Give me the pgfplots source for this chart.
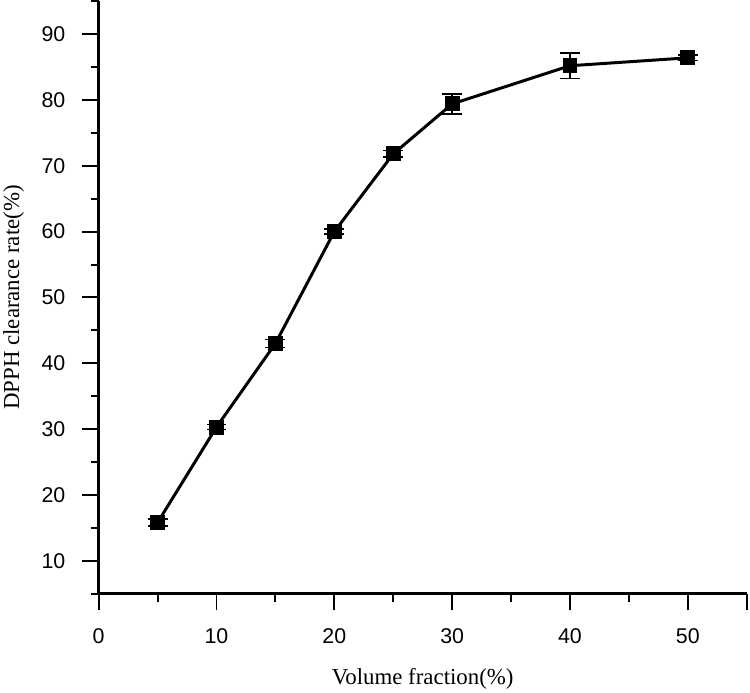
\documentclass[border=0pt]{standalone}
\usepackage{pgfplots}
\pgfplotsset{compat=1.18}
\usepackage{fontspec}
\setmainfont{Liberation Serif}
\newfontfamily\arialf{Liberation Sans}
\begin{document}
\begin{tikzpicture}
\begin{axis}[
  scale only axis,
  width=652pt, height=596pt,
  xmin=0, xmax=55, ymin=5, ymax=95,
  axis x line=bottom, axis y line=left,
  axis line style={line width=2.5pt, -},
  xtick={0,10,...,50}, ytick={10,20,...,90},
  minor xtick={5,15,...,45},
  minor ytick={5,15,...,95},
  extra x ticks={55}, extra x tick labels={},
  extra x tick style={major tick length=17pt},
  tick align=outside,
  major tick length=17pt, minor tick length=8pt,
  tick style={line width=2pt, black},
  /pgf/number format/assume math mode=true,
  ticklabel style={font=\arialf\fontsize{21.5}{24}\selectfont},
  xticklabel style={yshift=-15pt},
  yticklabel style={xshift=-13pt},
  label style={font=\fontsize{23}{26}\selectfont},
  xlabel={Volume fraction(\%)},
  ylabel={DPPH clearance rate(\%)},
  xlabel style={at={(axis description cs:0.5,-0.1527)}, anchor=base},
  ylabel style={at={(axis description cs:-0.1227,0.5)}, anchor=base},
]
\addplot[black, line width=3pt, mark=square*, mark size=6pt,
  error bars/.cd, y dir=both, y explicit,
  error bar style={line width=1.5pt, black},
  error mark options={rotate=90, mark size=10pt, line width=1.5pt, black}]
coordinates {
(5,15.8) +- (0,0.5)
(10,30.3) +- (0,0.4)
(15,43.0) +- (0,0.6)
(20,60.0) +- (0,0.4)
(25,71.8) +- (0,0.5)
(30,79.4) +- (0,1.5)
(40,85.2) +- (0,1.9)
(50,86.4) +- (0,0.4)
};
\end{axis}
\end{tikzpicture}
\end{document}
